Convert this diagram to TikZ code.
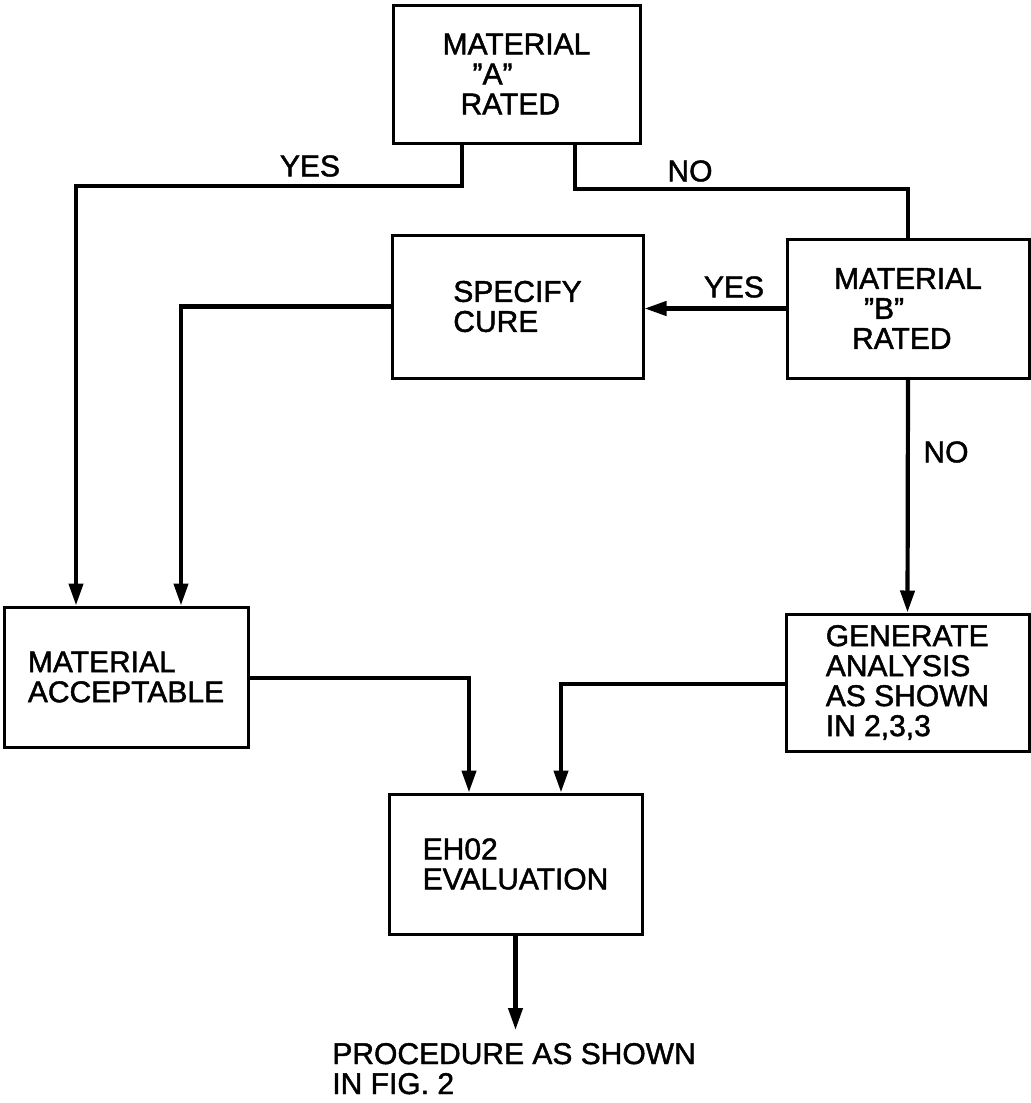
\documentclass[tikz,border=0pt]{standalone}
\usepackage{fontspec}
\setmainfont{Liberation Sans}[FakeBold=1.5]
\usetikzlibrary{arrows.meta}
\begin{document}
\begin{tikzpicture}[x=0.5pt,y=-0.5pt,
  box/.style={draw,line width=1.5pt,rectangle,inner sep=0pt,align=left,font=\fontsize{15}{15}\selectfont},
  conn/.style={line width=2.1pt},
  arr/.style={conn,-{Triangle[length=11pt,width=7pt]}},
  lbl/.style={font=\fontsize{15}{15}\selectfont,inner sep=0pt}]
\useasboundingbox (0,0) rectangle (1031,1103);
% boxes
\node[box,minimum width=123.5pt,minimum height=69pt] (A) at (516.5,74)
  {MATERIAL\\\hspace*{15pt}”A”\\\hspace*{9pt}RATED};
\node[box,minimum width=125.5pt,minimum height=71.5pt] (S) at (517.5,306.5)
  {SPECIFY\\CURE};
\node[box,minimum width=121pt,minimum height=69.5pt] (B) at (908,308.5)
  {MATERIAL\\\hspace*{15pt}”B”\\\hspace*{9pt}RATED};
\node[box,minimum width=122pt,minimum height=70pt] (M) at (126,677)
  {MATERIAL\\ACCEPTABLE};
\node[box,minimum width=121.5pt,minimum height=68.5pt] (G) at (907.5,682.5)
  {GENERATE\\ANALYSIS\\AS SHOWN\\IN 2,3,3};
\node[box,minimum width=126.5pt,minimum height=70pt] (E) at (515.5,864)
  {EH02\\EVALUATION};
% helper coordinates
\coordinate (a1) at (462,186);
\coordinate (a2) at (76,186);
\coordinate (b1) at (575,189);
\coordinate (b2) at (908,189);
\coordinate (s1) at (181,306.5);
\coordinate (m1) at (469,678);
\coordinate (g1) at (561,684);
\coordinate (out) at (515.5,1030);
% connectors
\draw[arr] (A.south -| a1) -- (a1) -- (a2) -- (a2 |- M.north);
\draw[conn] (A.south -| b1) -- (b1) -- (b2) -- (B.north);
\draw[arr] (B.west) -- (S.east |- B.west);
\draw[arr] (S.west) -- (s1) -- (s1 |- M.north);
\draw[arr] (B.south) -- (G.north);
\draw[arr] (M.east |- m1) -- (m1) -- (m1 |- E.north);
\draw[arr] (G.west |- g1) -- (g1) -- (g1 |- E.north);
\draw[arr] (E.south) -- (out);
% labels
\node[lbl] (yes1) at (310,166) {YES};
\node[lbl] (no1) at (690,171) {NO};
\node[lbl] (yes2) at (734,287) {YES};
\node[lbl] (no2) at (946,452) {NO};
\node[lbl,align=left,anchor=base west] (proc) at (332,1094) {PROCEDURE AS SHOWN\\IN FIG. 2};
\end{tikzpicture}
\end{document}
